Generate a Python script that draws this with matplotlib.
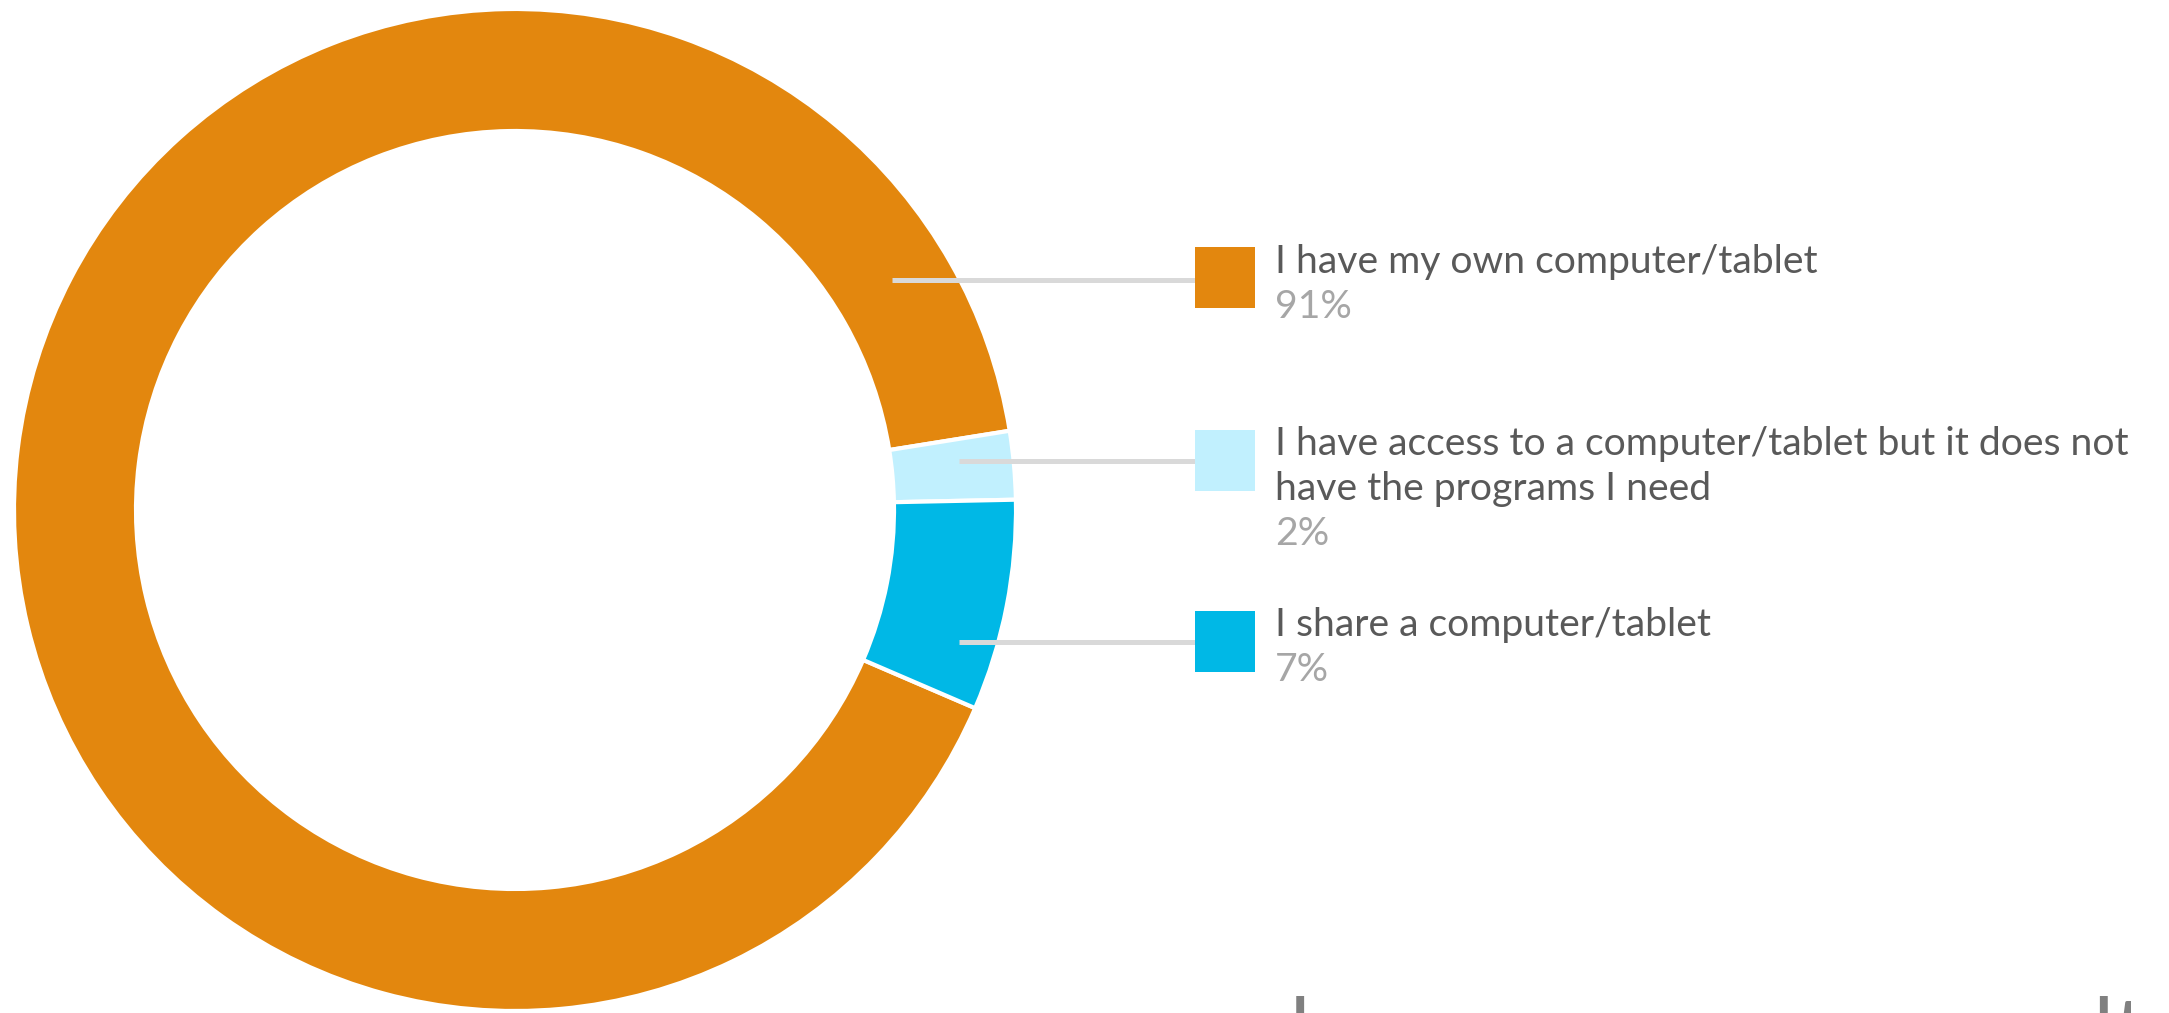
import numpy as np
import matplotlib.pyplot as plt
from matplotlib.patches import Rectangle

plt.rcParams['font.family'] = ['Lato', 'DejaVu Sans']

# data
labels = ['I have my own computer/tablet',
          'I have access to a computer/tablet but it does not\nhave the programs I need',
          'I share a computer/tablet']
shares = [91.0, 2.2, 6.8]
pct_labels = ['91%', '2%', '7%']
colors = ['#E3870E', '#C1F0FE', '#00B8E6']
footer = 'how we use our results'

W, H = 2169, 1013
fig = plt.figure(figsize=(W / 100, H / 100), dpi=100)
ax = fig.add_axes([0, 0, 1, 1])


def py(y):
    # pixel row (from top) -> data y
    return H - y


cx, cy, r_out, ring = 515, py(510), 501, 122
ax.pie(shares, colors=colors, startangle=-23.3, counterclock=False,
       center=(cx, cy), radius=r_out,
       wedgeprops=dict(width=ring, edgecolor='white', linewidth=3))

# legend boxes, connectors, texts
box_x, box_w = 1195, 60
box_top = [247, 430, 611]
line_x0 = [892, 959, 959]
line_y = [280, 461, 642]
first_base = [273, 455, 636]
text_x = 1275
for i in range(3):
    ax.plot([line_x0[i], box_x], [py(line_y[i])] * 2, color='#D9D9D9', lw=3.6,
            solid_capstyle='butt', zorder=3)
    ax.add_patch(Rectangle((box_x, py(box_top[i] + 61)), box_w, 61,
                           facecolor=colors[i], edgecolor='none', zorder=4))
    lines = labels[i].split('\n')
    for k, s in enumerate(lines):
        ax.text(text_x, py(first_base[i] + 45 * k), s, fontsize=28.2,
                color='#595959', va='baseline', ha='left')
    ax.text(text_x, py(first_base[i] + 45 * (len(lines) - 1) + 45), pct_labels[i],
            fontsize=28.2, color='#A6A6A6', va='baseline', ha='left')

ax.set_xlim(0, W)
ax.set_ylim(0, H)
ax.set_aspect('equal')
ax.axis('off')

# big title cut off at the bottom edge: size it so "resu" ends near x=2093
r = fig.canvas.get_renderer()
probe = ax.text(0, 0, footer[:footer.index('lt')], fontsize=100)
w100 = probe.get_window_extent(r).width
probe.remove()
fs = 100 * (2093 - 1290) / w100
em = fs * 100 / 72
ax.text(1290, py(1015 + 0.506 * em), footer, fontsize=fs, color='#808080',
        va='baseline', ha='left')

fig.savefig('out.png', dpi=100)
